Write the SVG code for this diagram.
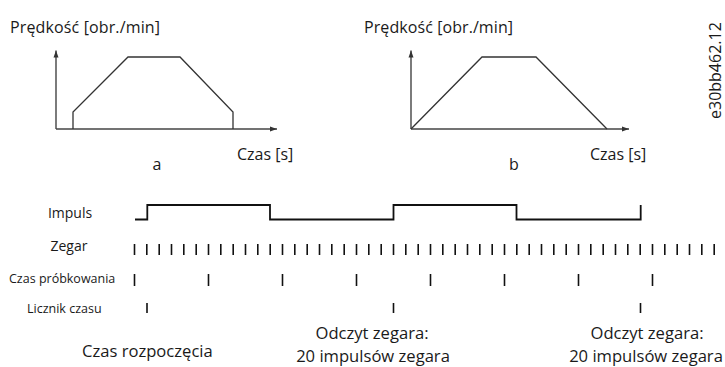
<svg xmlns="http://www.w3.org/2000/svg" width="725" height="367" viewBox="0 0 725 367">
<style>
text{font-family:"Open Sans","Noto Sans","Liberation Sans",sans-serif;fill:#1a1a1a}
.t16{font-size:16px}
.t165{font-size:16.6px}
.t14{font-size:14px}
.t13{font-size:12.5px}
.mid{text-anchor:middle}
.axis{stroke:#444;stroke-width:1.4;fill:none}
.curve{stroke:#333;stroke-width:1.3;fill:none}
.wave{stroke:#111;stroke-width:1.8;fill:none}
.tick{stroke:#111;stroke-width:1.6}
</style>
<defs>
<marker id="arr" markerWidth="8" markerHeight="6" refX="7" refY="3" orient="auto" markerUnits="userSpaceOnUse">
<path d="M0,0.5 L7,3 L0,5.5 Z" fill="#333"/>
</marker>
</defs>
<rect width="725" height="367" fill="#fff"/>
<g id="chart-a">
<text class="t16" x="10" y="33" textLength="150">Prędkość [obr./min]</text>
<path class="axis" d="M56,129 V50.5" marker-end="url(#arr)"/>
<path class="axis" d="M56,129 H277" marker-end="url(#arr)"/>
<path class="curve" d="M73,129 V112 L128,57 H180 L233,112 V129"/>
<text class="t16" x="237" y="160">Czas [s]</text>
<text class="t16 mid" x="157" y="170">a</text>
</g>
<g id="chart-b">
<text class="t16" x="364" y="33" textLength="149">Prędkość [obr./min]</text>
<path class="axis" d="M411,129 V50.5" marker-end="url(#arr)"/>
<path class="axis" d="M411,129 H629" marker-end="url(#arr)"/>
<path class="curve" d="M411,129 L482,57 H536 L607,129"/>
<text class="t16" x="590" y="160">Czas [s]</text>
<text class="t16 mid" x="514" y="170">b</text>
</g>
<text class="t16" transform="translate(721,119) rotate(-90)" x="0" y="0">e30bb462.12</text>
<g id="impuls">
<text class="t14 mid" x="70" y="218">Impuls</text>
<path class="wave" d="M135,219.5 H147.3 V205 H270 V219.5 H393.5 V205 H516.5 V219.5 H640.7 V205"/>
</g>
<g id="zegar">
<text class="t14 mid" x="69" y="251">Zegar</text>
<path class="tick" d="M134.5,244v11M146.8,244v11M159.2,244v11M171.5,244v11M183.8,244v11M196.2,244v11M208.5,244v11M220.8,244v11M233.2,244v11M245.5,244v11M257.8,244v11M270.2,244v11M282.5,244v11M294.8,244v11M307.2,244v11M319.5,244v11M331.8,244v11M344.2,244v11M356.5,244v11M368.8,244v11M381.2,244v11M393.5,244v11M405.8,244v11M418.2,244v11M430.5,244v11M442.8,244v11M455.2,244v11M467.5,244v11M479.8,244v11M492.2,244v11M504.5,244v11M516.8,244v11M529.2,244v11M541.5,244v11M553.8,244v11M566.2,244v11M578.5,244v11M590.8,244v11M603.2,244v11M615.5,244v11M627.8,244v11M640.2,244v11M652.5,244v11M664.8,244v11M677.2,244v11M689.5,244v11M701.8,244v11M714.2,244v11"/>
</g>
<g id="probkowanie">
<text class="t13" x="9" y="283">Czas próbkowania</text>
<path class="tick" d="M134.5,274v12M208.5,274v12M282.5,274v12M356.5,274v12M430.5,274v12M504.5,274v12M578.5,274v12M652.5,274v12"/>
</g>
<g id="licznik">
<text class="t13" x="27" y="313">Licznik czasu</text>
<path class="tick" d="M147,303v10M393.5,303v10M640.5,303v10"/>
</g>
<g id="labels">
<text class="t165" x="82" y="357">Czas rozpoczęcia</text>
<text class="t165 mid" x="372" y="339">Odczyt zegara:</text>
<text class="t165 mid" x="373" y="362">20 impulsów zegara</text>
<text class="t165 mid" x="647" y="339">Odczyt zegara:</text>
<text class="t165 mid" x="646" y="362">20 impulsów zegara</text>
</g>
</svg>
